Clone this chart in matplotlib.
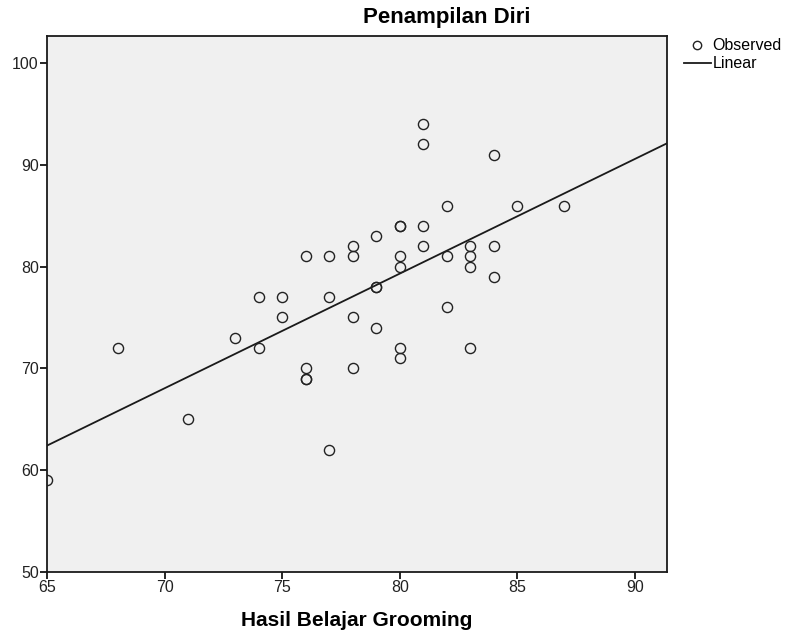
import numpy as np
import matplotlib.pyplot as plt

plt.rcParams['font.family'] = ['Liberation Sans', 'DejaVu Sans']

# Hasil Belajar Grooming (x) vs Penampilan Diri (y)
grooming = [65, 68, 71, 73, 74, 74, 75, 75, 76, 76, 76, 76,
            77, 77, 77, 78, 78, 78, 78, 79, 79, 79, 79,
            80, 80, 80, 80, 80, 80, 81, 81, 81, 81,
            82, 82, 82, 83, 83, 83, 83, 84, 84, 84, 85, 87]
penampilan = [59, 72, 65, 73, 77, 72, 77, 75, 81, 70, 69, 69,
              81, 77, 62, 82, 81, 75, 70, 83, 78, 78, 74,
              84, 84, 81, 80, 72, 71, 94, 92, 84, 82,
              86, 81, 76, 82, 81, 80, 72, 91, 82, 79, 86, 86]

x = np.array(grooming)
y = np.array(penampilan)
slope, intercept = np.polyfit(x, y, 1)

fig = plt.figure(figsize=(7.86, 6.32), dpi=100)
ax = fig.add_axes([47 / 786, 1 - 572 / 632, 620 / 786, 536 / 632])
ax.set_facecolor('#f0f0f0')

xmin, xmax = 65, 91.36
xx = np.array([xmin, xmax])
ax.plot(xx, intercept + slope * xx, color='#1a1a1a', lw=1.3, zorder=2)
ax.plot(x, y, 'o', ms=7.3, mfc='none', mec='#222222', mew=1.0, zorder=3)

ax.set_xlim(xmin, xmax)
ax.set_ylim(50, 102.65)
ax.set_xticks([65, 70, 75, 80, 85, 90])
ax.set_yticks([50, 60, 70, 80, 90, 100])
ax.tick_params(direction='out', length=5, width=1.2, labelsize=11.5, pad=1,
               labelcolor='#222222')
for s in ax.spines.values():
    s.set_linewidth(1.3)
    s.set_color('#1a1a1a')

fig.text(357 / 786, 1 - 621 / 632, 'Hasil Belajar Grooming', fontsize=15,
         fontweight='bold', ha='center', va='center')
fig.text(447 / 786, 1 - 18 / 632, 'Penampilan Diri', fontsize=16, fontweight='bold',
         ha='center', va='center')

# legend drawn as in the SPSS output
fig.lines.append(plt.Line2D([697 / 786], [1 - 45 / 632], marker='o', ms=6,
                            mfc='none', mec='#222222', mew=1.0, ls='none',
                            transform=fig.transFigure))
fig.lines.append(plt.Line2D([684 / 786, 711 / 786], [1 - 63 / 632, 1 - 63 / 632],
                            color='#1a1a1a', lw=1.3, transform=fig.transFigure))
fig.text(712 / 786, 1 - 46 / 632, 'Observed', fontsize=11.5, va='center')
fig.text(713 / 786, 1 - 63 / 632, 'Linear', fontsize=11.5, va='center')

fig.savefig('out.png', dpi=100)
